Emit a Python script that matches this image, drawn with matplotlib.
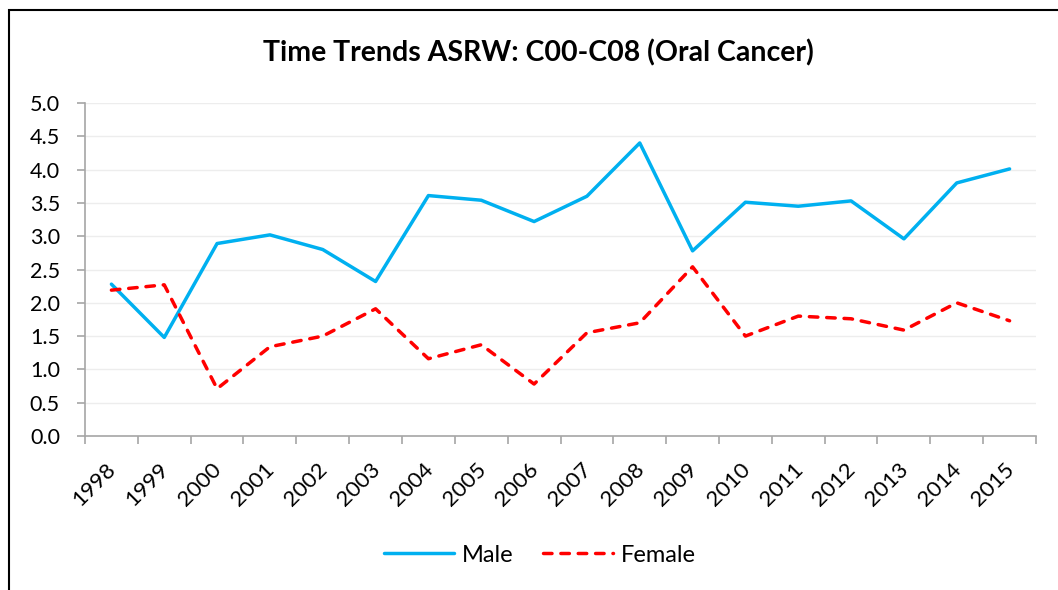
import matplotlib
matplotlib.use("Agg")
import matplotlib.pyplot as plt
from matplotlib.patches import Rectangle
from matplotlib.lines import Line2D

years = [str(y) for y in range(1998, 2016)]
male = [2.28, 1.48, 2.89, 3.02, 2.80, 2.32, 3.61, 3.54, 3.22, 3.60, 4.40, 2.78, 3.51, 3.45, 3.53, 2.96, 3.80, 4.01]
female = [2.19, 2.27, 0.71, 1.34, 1.50, 1.91, 1.16, 1.37, 0.78, 1.55, 1.70, 2.54, 1.50, 1.80, 1.76, 1.59, 2.00, 1.73]
yticks = [0.0, 0.5, 1.0, 1.5, 2.0, 2.5, 3.0, 3.5, 4.0, 4.5, 5.0]

plt.rcParams['font.family'] = ['Lato', 'DejaVu Sans']

MALE_C = '#00B0F0'
FEMALE_C = '#FF0000'
LW = 2.5
DASH = (0, (2.45, 2.55))

W, H = 1058, 590
fig = plt.figure(figsize=(W / 100, H / 100), dpi=100)
fig.patch.set_facecolor('white')

# outer chart border
fig.add_artist(Rectangle((9 / W, -0.01), 1.2, (H - 10) / H + 0.01, transform=fig.transFigure,
                         fill=False, edgecolor='black', linewidth=1.5))

left, right, top, bottom = 85, 1036, 103, 436
ax = fig.add_axes([left / W, 1 - bottom / H, (right - left) / W, (bottom - top) / H])

x = list(range(len(years)))
ax.plot(x, male, color=MALE_C, linewidth=LW, label='Male',
        solid_capstyle='round', solid_joinstyle='round')
ax.plot(x, female, color=FEMALE_C, linewidth=LW, linestyle=DASH, label='Female',
        dash_capstyle='round', dash_joinstyle='round')

ax.set_xlim(-0.5, len(years) - 0.5)
ax.set_ylim(0, 5)
ax.set_yticks(yticks)
ax.set_yticklabels([f"{v:.1f}" for v in yticks], fontsize=15.5)
ax.yaxis.grid(True, color='#EDEDED', linewidth=1)
ax.set_axisbelow(True)

ax.set_xticks([i - 0.5 for i in range(len(years) + 1)])
ax.set_xticklabels([])
ax.tick_params(axis='x', length=6, color='#A6A6A6', width=1.2)
ax.tick_params(axis='y', length=6, color='#A6A6A6', width=1.2, pad=12)
for i, lab in enumerate(years):
    ax.annotate(lab, xy=(i, 0), xycoords=('data', 'axes fraction'),
                xytext=(-4, -17), textcoords='offset points',
                rotation=45, ha='right', va='top', fontsize=16,
                rotation_mode='anchor')

for s in ['top', 'right']:
    ax.spines[s].set_visible(False)
for s in ['left', 'bottom']:
    ax.spines[s].set_color('#A6A6A6')
    ax.spines[s].set_linewidth(1.2)

fig.text(538 / W, 1 - 61 / H, 'Time Trends ASRW: C00-C08 (Oral Cancer)',
         ha='center', va='baseline', fontsize=20.5, fontweight='bold')

handles = [Line2D([], [], color=MALE_C, linewidth=LW, solid_capstyle='round'),
           Line2D([], [], color=FEMALE_C, linewidth=LW, linestyle=DASH, dash_capstyle='round')]
fig.legend(handles, ['Male', 'Female'], loc='center', bbox_to_anchor=(540 / W, 1 - 555 / H),
           ncol=2, frameon=False, fontsize=17, handlelength=2.95, columnspacing=1.25,
           handletextpad=0.33, borderpad=0, borderaxespad=0)

fig.savefig('out.png', dpi=100, facecolor='white')
